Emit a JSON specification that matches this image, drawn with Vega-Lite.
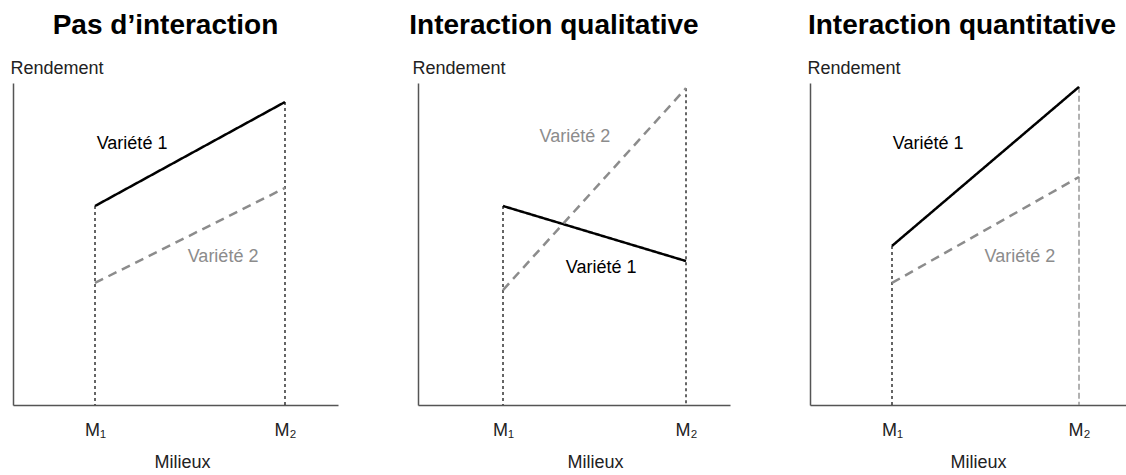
{
  "$schema": "https://vega.github.io/schema/vega-lite/v6.json",
  "background": "white",
  "padding": {"left": 10, "top": 12, "right": 0, "bottom": 0},
  "bounds": "flush",
  "spacing": 80,
  "datasets": {
    "lines": [
      {"p": 1, "v": "Variété 1", "x": 1, "y": 61.8},
      {"p": 1, "v": "Variété 1", "x": 2, "y": 94.1},
      {"p": 1, "v": "Variété 2", "x": 1, "y": 37.9},
      {"p": 1, "v": "Variété 2", "x": 2, "y": 67.4},
      {"p": 2, "v": "Variété 1", "x": 1, "y": 61.8},
      {"p": 2, "v": "Variété 1", "x": 2, "y": 44.7},
      {"p": 2, "v": "Variété 2", "x": 1, "y": 35.7},
      {"p": 2, "v": "Variété 2", "x": 2, "y": 98.4},
      {"p": 3, "v": "Variété 1", "x": 1, "y": 49.4},
      {"p": 3, "v": "Variété 1", "x": 2, "y": 98.8},
      {"p": 3, "v": "Variété 2", "x": 1, "y": 37.9},
      {"p": 3, "v": "Variété 2", "x": 2, "y": 70.8}
    ],
    "labels": [
      {"p": 1, "v": "Variété 1", "x": 1.195, "y": 81.1},
      {"p": 1, "v": "Variété 2", "x": 1.674, "y": 46.0},
      {"p": 2, "v": "Variété 2", "x": 1.393, "y": 83.2},
      {"p": 2, "v": "Variété 1", "x": 1.536, "y": 42.5},
      {"p": 3, "v": "Variété 1", "x": 1.193, "y": 81.1},
      {"p": 3, "v": "Variété 2", "x": 1.684, "y": 46.0}
    ],
    "drops": [
      {"p": 1, "x": 1, "y": 61.8, "style": "dot"},
      {"p": 1, "x": 2, "y": 94.1, "style": "dot"},
      {"p": 2, "x": 1, "y": 61.8, "style": "dot"},
      {"p": 2, "x": 2, "y": 98.4, "style": "dot"},
      {"p": 3, "x": 1, "y": 49.4, "style": "dot"},
      {"p": 3, "x": 2, "y": 98.8, "style": "dash"}
    ]
  },
  "config": {
    "view": {"stroke": null},
    "font": "Liberation Sans",
    "title": {"fontSize": 28, "fontWeight": "bold", "color": "#000000", "frame": "group", "anchor": "middle", "baseline": "alphabetic", "offset": 19},
    "axis": {
      "domainColor": "#555555",
      "domainWidth": 1.5,
      "grid": false,
      "ticks": false,
      "labelFont": "Liberation Sans",
      "labelFontSize": 18,
      "labelColor": "#222222",
      "titleFont": "Liberation Sans",
      "titleFontSize": 18,
      "titleFontWeight": "normal",
      "titleColor": "#222222"
    },
    "text": {"font": "Liberation Sans", "fontSize": 18}
  },
  "hconcat": [
    {
      "width": 325,
      "height": 322,
      "title": {"text": "Pas d’interaction", "dx": -10},
      "encoding": {
        "x": {"field": "x", "type": "quantitative", "scale": {"domain": [0.5684, 2.279], "nice": false, "zero": false},
              "axis": {"title": "Milieux", "values": [1, 2], "labelExpr": "datum.value == 1 ? 'M₁' : 'M₂'", "labelPadding": 16, "titleX": 169, "titleY": 57, "titleBaseline": "middle", "titleAlign": "center"}},
        "y": {"field": "y", "type": "quantitative", "scale": {"domain": [0, 100], "nice": false},
              "axis": {"title": "Rendement", "labels": false, "titleAngle": 0, "titleAlign": "left", "titleBaseline": "middle", "titleX": -3, "titleY": -15}}
      },
      "layer": [
        {"data": {"name": "drops"}, "transform": [{"filter": "datum.p == 1 && datum.style == 'dot'"}],
         "mark": {"type": "rule", "stroke": "#333333", "strokeWidth": 1.5, "strokeDash": [3, 3]},
         "encoding": {"y2": {"datum": 0}}},
        {"data": {"name": "lines"}, "transform": [{"filter": "datum.p == 1"}],
         "mark": {"type": "line", "strokeWidth": 2.5},
         "encoding": {
           "detail": {"field": "v"},
           "color": {"field": "v", "type": "nominal", "scale": {"domain": ["Variété 1", "Variété 2"], "range": ["#000000", "#8c8c8c"]}, "legend": null},
           "strokeDash": {"field": "v", "type": "nominal", "scale": {"domain": ["Variété 1", "Variété 2"], "range": [[1, 0], [9, 6]]}, "legend": null}
         }},
        {"data": {"name": "labels"}, "transform": [{"filter": "datum.p == 1"}],
         "mark": {"type": "text", "align": "center", "baseline": "middle"},
         "encoding": {
           "text": {"field": "v"},
           "color": {"field": "v", "type": "nominal", "scale": {"domain": ["Variété 1", "Variété 2"], "range": ["#000000", "#8c8c8c"]}, "legend": null}
         }}
      ]
    },
    {
      "width": 312,
      "height": 322,
      "title": {"text": "Interaction qualitative", "dx": -20},
      "encoding": {
        "x": {"field": "x", "type": "quantitative", "scale": {"domain": [0.5355, 2.2404], "nice": false, "zero": false},
              "axis": {"title": "Milieux", "values": [1, 2], "labelExpr": "datum.value == 1 ? 'M₁' : 'M₂'", "labelPadding": 16, "titleX": 177, "titleY": 57, "titleBaseline": "middle", "titleAlign": "center"}},
        "y": {"field": "y", "type": "quantitative", "scale": {"domain": [0, 100], "nice": false},
              "axis": {"title": "Rendement", "labels": false, "titleAngle": 0, "titleAlign": "left", "titleBaseline": "middle", "titleX": -6, "titleY": -15}}
      },
      "layer": [
        {"data": {"name": "drops"}, "transform": [{"filter": "datum.p == 2 && datum.style == 'dot'"}],
         "mark": {"type": "rule", "stroke": "#333333", "strokeWidth": 1.5, "strokeDash": [3, 3]},
         "encoding": {"y2": {"datum": 0}}},
        {"data": {"name": "lines"}, "transform": [{"filter": "datum.p == 2"}],
         "mark": {"type": "line", "strokeWidth": 2.5},
         "encoding": {
           "detail": {"field": "v"},
           "color": {"field": "v", "type": "nominal", "scale": {"domain": ["Variété 1", "Variété 2"], "range": ["#000000", "#8c8c8c"]}, "legend": null},
           "strokeDash": {"field": "v", "type": "nominal", "scale": {"domain": ["Variété 1", "Variété 2"], "range": [[1, 0], [9, 6]]}, "legend": null}
         }},
        {"data": {"name": "labels"}, "transform": [{"filter": "datum.p == 2"}],
         "mark": {"type": "text", "align": "center", "baseline": "middle"},
         "encoding": {
           "text": {"field": "v"},
           "color": {"field": "v", "type": "nominal", "scale": {"domain": ["Variété 1", "Variété 2"], "range": ["#000000", "#8c8c8c"]}, "legend": null}
         }}
      ]
    },
    {
      "width": 316,
      "height": 322,
      "title": {"text": "Interaction quantitative", "dx": -6},
      "encoding": {
        "x": {"field": "x", "type": "quantitative", "scale": {"domain": [0.5615, 2.2513], "nice": false, "zero": false},
              "axis": {"title": "Milieux", "values": [1, 2], "labelExpr": "datum.value == 1 ? 'M₁' : 'M₂'", "labelPadding": 16, "titleX": 168, "titleY": 57, "titleBaseline": "middle", "titleAlign": "center"}},
        "y": {"field": "y", "type": "quantitative", "scale": {"domain": [0, 100], "nice": false},
              "axis": {"title": "Rendement", "labels": false, "titleAngle": 0, "titleAlign": "left", "titleBaseline": "middle", "titleX": -3, "titleY": -15}}
      },
      "layer": [
        {"data": {"name": "drops"}, "transform": [{"filter": "datum.p == 3 && datum.style == 'dot'"}],
         "mark": {"type": "rule", "stroke": "#333333", "strokeWidth": 1.5, "strokeDash": [3, 3]},
         "encoding": {"y2": {"datum": 0}}},
        {"data": {"name": "drops"}, "transform": [{"filter": "datum.p == 3 && datum.style == 'dash'"}],
         "mark": {"type": "rule", "stroke": "#999999", "strokeWidth": 1.5, "strokeDash": [6, 3]},
         "encoding": {"y2": {"datum": 0}}},
        {"data": {"name": "lines"}, "transform": [{"filter": "datum.p == 3"}],
         "mark": {"type": "line", "strokeWidth": 2.5},
         "encoding": {
           "detail": {"field": "v"},
           "color": {"field": "v", "type": "nominal", "scale": {"domain": ["Variété 1", "Variété 2"], "range": ["#000000", "#8c8c8c"]}, "legend": null},
           "strokeDash": {"field": "v", "type": "nominal", "scale": {"domain": ["Variété 1", "Variété 2"], "range": [[1, 0], [9, 6]]}, "legend": null}
         }},
        {"data": {"name": "labels"}, "transform": [{"filter": "datum.p == 3"}],
         "mark": {"type": "text", "align": "center", "baseline": "middle"},
         "encoding": {
           "text": {"field": "v"},
           "color": {"field": "v", "type": "nominal", "scale": {"domain": ["Variété 1", "Variété 2"], "range": ["#000000", "#8c8c8c"]}, "legend": null}
         }}
      ]
    }
  ]
}
